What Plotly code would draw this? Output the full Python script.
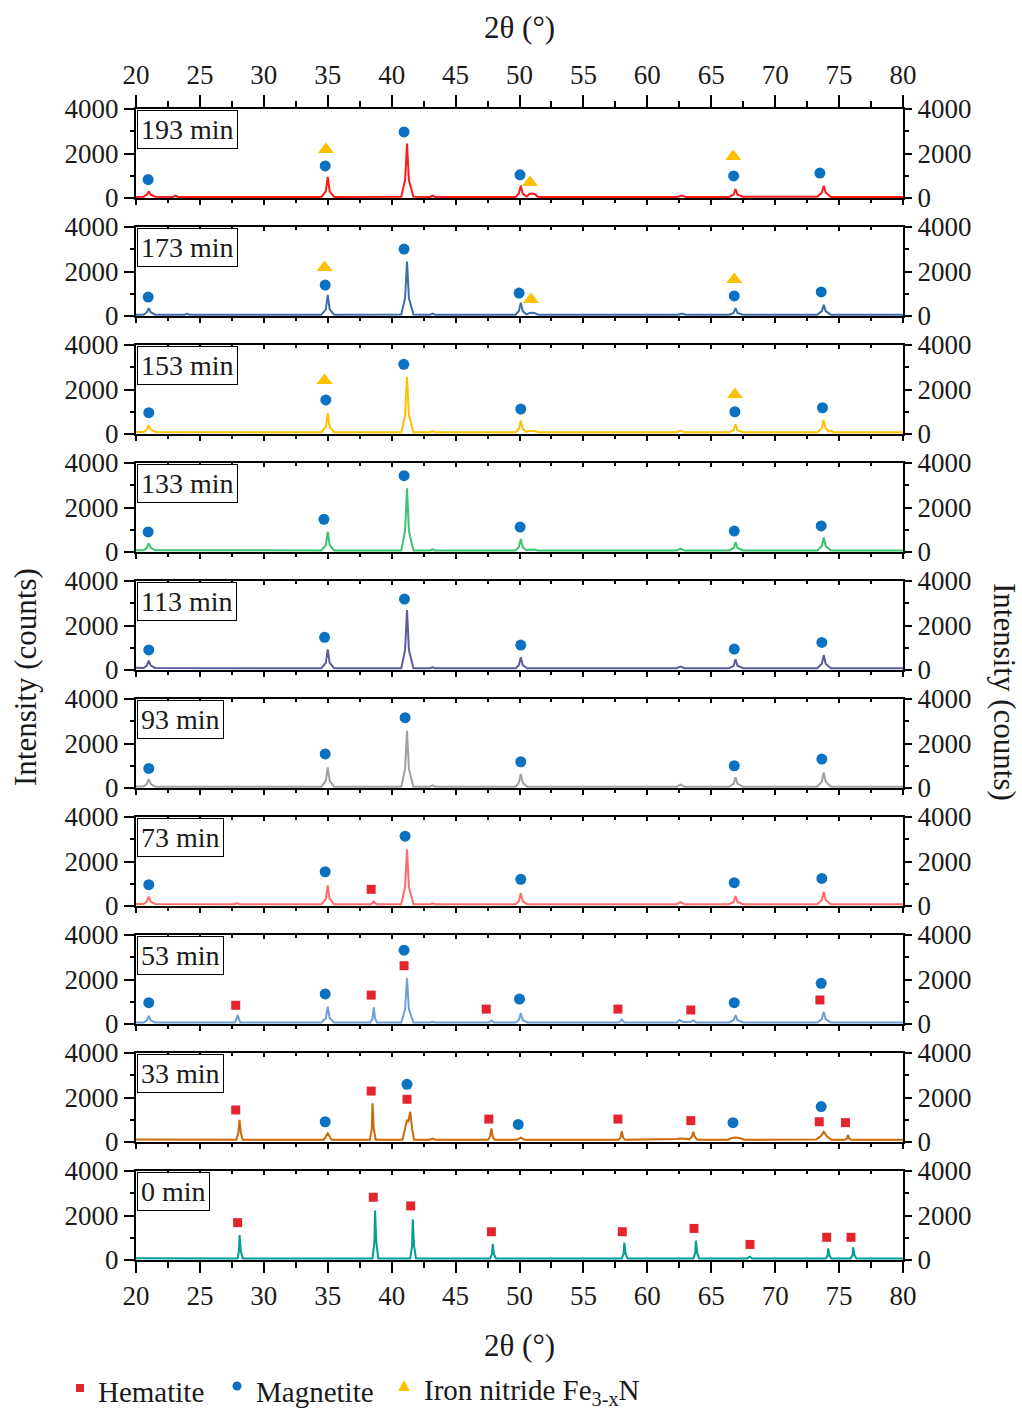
import plotly.graph_objects as go

# ---------------- data ----------------
panel_labels = ["193 min", "173 min", "153 min", "133 min", "113 min",
                "93 min", "73 min", "53 min", "33 min", "0 min"]
line_colors = ["#ff1a1a", "#3c6ea8", "#ffc000", "#3dc46e", "#5c5c9c",
               "#a0a0a0", "#ff6b6b", "#6f9fd8", "#cc6a0a", "#009e98"]

tt193 = [20.0, 20.6, 20.85, 21.0, 21.15, 21.5, 22.9, 23.1, 23.3,
         34.5, 34.85, 35.0, 35.15, 35.5, 40.75, 41.05, 41.2, 41.35, 41.7,
         43.0, 43.2, 43.4, 49.7, 49.95, 50.1, 50.25, 50.55, 50.8, 51.0, 51.2, 51.45,
         62.4, 62.7, 63.0, 66.4, 66.75, 66.9, 67.05, 67.5,
         73.3, 73.65, 73.8, 73.95, 74.35, 80.0]
I193 = [50, 60, 150, 300, 150, 60, 50, 110, 50,
        50, 300, 950, 300, 50, 60, 800, 2450, 800, 60,
        50, 110, 50, 50, 200, 550, 200, 70, 180, 200, 170, 50,
        50, 110, 50, 50, 150, 400, 150, 60,
        60, 250, 550, 250, 50, 50]

tt173 = [20.0, 20.6, 20.85, 21.0, 21.15, 21.5, 23.8, 24.0, 24.2,
         34.5, 34.85, 35.0, 35.15, 35.5, 40.75, 41.05, 41.2, 41.35, 41.7,
         43.0, 43.2, 43.4, 49.7, 49.95, 50.1, 50.25, 50.55, 50.8, 51.0, 51.2, 51.45,
         62.4, 62.7, 63.0, 66.4, 66.75, 66.9, 67.05, 67.5,
         73.3, 73.65, 73.8, 73.95, 74.35, 80.0]
I173 = [60, 60, 170, 350, 170, 60, 60, 100, 60,
        60, 300, 950, 300, 60, 70, 800, 2450, 800, 70,
        60, 110, 60, 60, 220, 600, 220, 70, 140, 150, 130, 60,
        60, 110, 60, 60, 140, 350, 140, 60,
        60, 220, 500, 220, 60, 60]

tt153 = [20.0, 20.6, 20.85, 21.0, 21.15, 21.5,
         34.5, 34.85, 35.0, 35.15, 35.5, 40.75, 41.05, 41.2, 41.35, 41.7,
         43.0, 43.2, 43.4, 49.7, 49.95, 50.1, 50.25, 50.55, 50.8, 51.0, 51.2, 51.45,
         62.3, 62.6, 62.9, 66.4, 66.75, 66.9, 67.05, 67.5,
         73.3, 73.65, 73.8, 73.95, 74.2, 74.4, 74.6, 80.0]
I153 = [90, 90, 200, 400, 200, 90,
        80, 320, 940, 320, 80, 80, 850, 2570, 850, 80,
        80, 130, 80, 80, 230, 600, 230, 90, 140, 150, 130, 80,
        80, 150, 80, 80, 170, 430, 170, 80,
        80, 260, 630, 260, 110, 140, 80, 80]

tt133 = [20.0, 20.6, 20.85, 21.0, 21.15, 21.5,
         34.5, 34.85, 35.0, 35.15, 35.5, 40.75, 41.05, 41.2, 41.35, 41.7,
         43.0, 43.2, 43.4, 49.7, 49.95, 50.1, 50.25, 50.55, 50.8, 51.0, 51.2, 51.45,
         62.3, 62.6, 62.9, 66.4, 66.75, 66.9, 67.05, 67.5,
         73.3, 73.65, 73.8, 73.95, 74.35, 80.0]
I133 = [80, 80, 190, 390, 190, 80,
        70, 310, 910, 310, 70, 70, 950, 2860, 950, 70,
        70, 120, 70, 70, 220, 580, 220, 80, 110, 120, 100, 70,
        70, 150, 70, 70, 180, 450, 180, 70,
        70, 270, 650, 270, 70, 70]

tt113 = [20.0, 20.6, 20.85, 21.0, 21.15, 21.5,
         34.5, 34.85, 35.0, 35.15, 35.5, 40.75, 41.05, 41.2, 41.35, 41.7,
         43.0, 43.2, 43.4, 49.7, 49.95, 50.1, 50.25, 50.6,
         62.3, 62.6, 62.9, 66.4, 66.75, 66.9, 67.05, 67.5,
         73.3, 73.65, 73.8, 73.95, 74.35, 80.0]
I113 = [100, 90, 200, 420, 200, 90,
        80, 320, 930, 320, 80, 80, 900, 2690, 900, 80,
        80, 120, 80, 80, 220, 570, 220, 80,
        80, 150, 80, 80, 190, 480, 190, 80,
        80, 280, 670, 280, 80, 80]

tt93 = [20.0, 20.6, 20.85, 21.0, 21.15, 21.5,
        34.5, 34.85, 35.0, 35.15, 35.5, 40.75, 41.05, 41.2, 41.35, 41.7,
        43.0, 43.2, 43.4, 49.7, 49.95, 50.1, 50.25, 50.6,
        62.3, 62.6, 62.9, 66.4, 66.75, 66.9, 67.05, 67.5,
        73.3, 73.65, 73.8, 73.95, 74.35, 80.0]
I93 = [70, 70, 190, 400, 190, 60,
       60, 320, 930, 320, 60, 60, 860, 2570, 860, 60,
       60, 120, 60, 60, 240, 630, 240, 60,
       60, 150, 60, 60, 190, 480, 190, 60,
       60, 290, 700, 290, 60, 60]

tt73 = [20.0, 20.6, 20.85, 21.0, 21.15, 21.5, 27.7, 27.9, 28.1,
        34.5, 34.85, 35.0, 35.15, 35.5, 38.4, 38.6, 38.8,
        40.75, 41.05, 41.2, 41.35, 41.7, 43.0, 43.2, 43.4,
        49.7, 49.95, 50.1, 50.25, 50.6, 62.3, 62.6, 62.9,
        66.4, 66.75, 66.9, 67.05, 67.5, 73.3, 73.65, 73.8, 73.95, 74.35, 80.0]
I73 = [90, 90, 200, 420, 200, 90, 80, 130, 80,
       80, 320, 930, 320, 80, 80, 200, 80,
       80, 850, 2550, 850, 80, 80, 120, 80,
       80, 220, 570, 220, 80, 80, 170, 80,
       80, 180, 450, 180, 80, 80, 270, 640, 270, 80, 80]

tt53 = [20.0, 20.6, 20.85, 21.0, 21.15, 21.5, 27.75, 27.95, 28.15,
        34.5, 34.85, 35.0, 35.15, 35.5, 38.35, 38.5, 38.6, 38.7, 38.85,
        40.75, 41.05, 41.2, 41.35, 41.7, 43.0, 43.2, 43.4, 47.6, 47.8, 48.0,
        49.7, 49.95, 50.1, 50.25, 50.6, 57.8, 58.0, 58.2,
        62.3, 62.5, 62.8, 63.4, 63.6, 63.8,
        66.4, 66.75, 66.9, 67.05, 67.5, 73.3, 73.65, 73.8, 73.95, 74.35, 80.0]
I53 = [70, 70, 160, 360, 160, 70, 70, 400, 70,
       70, 260, 780, 260, 70, 70, 250, 750, 250, 70,
       70, 650, 2050, 650, 70, 70, 100, 70, 70, 160, 70,
       70, 180, 480, 180, 70, 70, 200, 70,
       70, 180, 90, 90, 170, 70,
       70, 170, 400, 170, 70, 70, 220, 550, 220, 70, 70]

tt33 = [20.0, 27.85, 28.0, 28.1, 28.2, 28.35, 34.7, 35.0, 35.3,
        38.3, 38.45, 38.5, 38.6, 38.75, 40.85, 41.1, 41.2, 41.3, 41.45, 41.6, 41.75,
        43.0, 43.2, 43.4, 47.55, 47.7, 47.8, 47.9, 48.05, 49.8, 50.1, 50.4,
        57.75, 57.9, 58.0, 58.1, 58.25, 62.3, 62.6, 63.3, 63.5, 63.6, 63.7, 63.9,
        66.3, 66.6, 66.9, 67.2, 67.6, 73.2, 73.55, 73.8, 74.05, 74.4,
        75.45, 75.6, 75.7, 75.8, 75.95, 80.0]
I33 = [110, 100, 400, 990, 400, 100, 100, 390, 100,
       100, 600, 1740, 600, 100, 100, 700, 1000, 900, 1360, 600, 100,
       100, 150, 100, 100, 250, 610, 250, 100, 100, 200, 100,
       100, 200, 490, 200, 100, 130, 160, 130, 250, 460, 250, 100,
       100, 180, 200, 180, 100, 110, 250, 460, 250, 100,
       100, 150, 310, 150, 100, 100]

tt0 = [20.0, 27.95, 28.05, 28.1, 28.2, 28.35, 38.5, 38.65, 38.7, 38.8, 38.95,
       41.45, 41.6, 41.65, 41.75, 41.9, 47.7, 47.85, 47.9, 48.0, 48.15,
       58.0, 58.15, 58.2, 58.3, 58.45, 63.6, 63.75, 63.8, 63.9, 64.05,
       67.8, 68.0, 68.2, 73.95, 74.1, 74.15, 74.25, 74.4,
       75.9, 76.05, 76.1, 76.2, 76.35, 80.0]
I0 = [80, 70, 400, 1120, 400, 70, 70, 800, 2220, 800, 70,
      70, 650, 1830, 650, 70, 70, 270, 720, 270, 70,
      70, 290, 780, 290, 70, 70, 320, 870, 320, 70,
      70, 150, 70, 70, 200, 520, 200, 70,
      70, 220, 570, 220, 70, 70]

theta = [tt193, tt173, tt153, tt133, tt113, tt93, tt73, tt53, tt33, tt0]
counts = [I193, I173, I153, I133, I113, I93, I73, I53, I33, I0]

# phase markers per panel
mag_x = [[20.95, 34.8, 40.97, 50.04, 66.75, 73.5],
         [20.95, 34.8, 40.97, 49.97, 66.8, 73.6],
         [21.0, 34.85, 40.95, 50.1, 66.85, 73.7],
         [20.95, 34.7, 40.97, 50.05, 66.8, 73.6],
         [21.0, 34.75, 41.0, 50.1, 66.8, 73.65],
         [21.0, 34.8, 41.05, 50.1, 66.8, 73.65],
         [21.0, 34.8, 41.05, 50.1, 66.8, 73.65],
         [21.0, 34.8, 40.97, 50.0, 66.8, 73.6],
         [34.8, 41.2, 49.9, 66.7, 73.6],
         []]
mag_y = [[830, 1440, 2970, 1040, 990, 1120],
         [850, 1390, 3010, 1030, 900, 1080],
         [960, 1530, 3130, 1120, 1000, 1180],
         [900, 1470, 3430, 1120, 940, 1170],
         [900, 1470, 3190, 1120, 940, 1240],
         [880, 1530, 3160, 1180, 1000, 1300],
         [960, 1540, 3140, 1200, 1050, 1240],
         [960, 1350, 3320, 1120, 960, 1830],
         [910, 2590, 790, 870, 1590],
         []]
hem_x = [[], [], [], [], [], [],
         [38.4],
         [27.8, 38.4, 40.97, 47.4, 57.7, 63.4, 73.5],
         [27.8, 38.4, 41.2, 47.6, 57.7, 63.4, 73.45, 75.5],
         [27.95, 38.56, 41.49, 47.8, 58.04, 63.65, 68.03, 74.03, 75.93]]
hem_y = [[], [], [], [], [], [],
         [750],
         [840, 1300, 2620, 670, 670, 630, 1080],
         [1440, 2290, 1920, 1030, 1030, 960, 910, 870],
         [1680, 2820, 2430, 1270, 1270, 1420, 700, 1020, 1020]]
nit_x = [[34.86, 50.82, 66.72], [34.75, 50.9, 66.8], [34.75, 66.85],
         [], [], [], [], [], [], []]
nit_y = [[2180, 700, 1860], [2180, 740, 1640], [2410, 1770],
         [], [], [], [], [], [], []]

x_ticks = [20, 25, 30, 35, 40, 45, 50, 55, 60, 65, 70, 75, 80]
y_ticks = [0, 2000, 4000]

# ---------------- layout helpers ----------------
W, H = 1022, 1409
ML, MR, MT, MB = 136, 119, 109, 149
PW = W - ML - MR
PH = H - MT - MB
FONT = "Liberation Serif, Times New Roman, serif"
INK = "#1a1a1a"
HEM_C, MAG_C, NIT_C = "#e3262e", "#0b72c2", "#ffc000"


def py(p):
    return (H - MB - p) / PH


def px(p):
    return (p - ML) / PW


def ax(prefix, n):
    return prefix if n == 1 else f"{prefix}{n}"


fig = go.Figure()
layout = {}
annotations = []

for i in range(10):
    n = i + 1
    xa, ya = ax("x", n), ax("y", n)
    fig.add_trace(go.Scatter(x=theta[i], y=counts[i], mode="lines",
                             line=dict(color=line_colors[i], width=2),
                             xaxis=xa, yaxis=ya, showlegend=False, hoverinfo="skip"))
    if hem_x[i]:
        fig.add_trace(go.Scatter(x=hem_x[i], y=hem_y[i], mode="markers",
                                 marker=dict(symbol="square", size=9, color=HEM_C),
                                 xaxis=xa, yaxis=ya, showlegend=False))
    if mag_x[i]:
        fig.add_trace(go.Scatter(x=mag_x[i], y=mag_y[i], mode="markers",
                                 marker=dict(symbol="circle", size=11, color=MAG_C),
                                 xaxis=xa, yaxis=ya, showlegend=False))
    if nit_x[i]:
        fig.add_trace(go.Scatter(x=nit_x[i], y=nit_y[i], mode="markers",
                                 marker=dict(symbol="triangle-up", size=14, color=NIT_C),
                                 xaxis=xa, yaxis=ya, showlegend=False))
    # placeholder traces so the mirrored top / right axes are drawn
    fig.add_trace(go.Scatter(x=[None], y=[None], xaxis=f"x{10 + n}", yaxis=ya,
                             showlegend=False, hoverinfo="skip"))
    fig.add_trace(go.Scatter(x=[None], y=[None], xaxis=xa, yaxis=f"y{10 + n}",
                             showlegend=False, hoverinfo="skip"))

    top = MT + 118 * i
    bot = top + 89
    dom = [py(bot), py(top)]
    last = (i == 9)
    first = (i == 0)
    tfont = dict(family=FONT, size=27, color=INK)

    layout[f"xaxis{n}"] = dict(
        domain=[0, 1], anchor=ya, range=[20, 80], tickvals=x_ticks,
        showticklabels=last, ticks="outside", ticklen=11 if last else 5,
        tickwidth=2, tickcolor="black", showline=True, linewidth=2, linecolor="black",
        showgrid=False, zeroline=False, tickfont=tfont,
        minor=dict(ticks="outside", ticklen=6 if last else 3, tickwidth=2,
                   tickcolor="black", dtick=2.5, tick0=20, showgrid=False))
    layout[f"xaxis{10 + n}"] = dict(
        overlaying=xa, anchor=ya, side="top", range=[20, 80], tickvals=x_ticks,
        showticklabels=first, ticks="outside" if first else "inside",
        ticklen=12 if first else 4, tickwidth=2, tickcolor="black",
        showline=True, linewidth=2, linecolor="black",
        showgrid=False, zeroline=False, tickfont=tfont,
        minor=dict(ticks="outside" if first else "inside", ticklen=6 if first else 3,
                   tickwidth=2, tickcolor="black", dtick=2.5, tick0=20, showgrid=False))
    layout[f"yaxis{n}"] = dict(
        domain=dom, anchor=xa, range=[0, 4000], tickvals=y_ticks,
        ticks="outside", ticklen=10, tickwidth=2, tickcolor="black",
        showline=True, linewidth=2, linecolor="black", showgrid=False, zeroline=False,
        tickfont=tfont,
        minor=dict(ticks="outside", ticklen=4, tickwidth=2, tickcolor="black",
                   dtick=1000, tick0=0, showgrid=False))
    layout[f"yaxis{10 + n}"] = dict(
        overlaying=ya, anchor=xa, side="right", range=[0, 4000], tickvals=y_ticks,
        ticks="outside", ticklen=7, tickwidth=2, tickcolor="black",
        showline=True, linewidth=2, linecolor="black", showgrid=False, zeroline=False,
        tickfont=tfont,
        minor=dict(ticks="outside", ticklen=4, tickwidth=2, tickcolor="black",
                   dtick=1000, tick0=0, showgrid=False))

    annotations.append(dict(
        text=panel_labels[i], xref=xa, yref=ya, x=20, y=4000,
        xanchor="left", yanchor="top", xshift=1, yshift=-1, showarrow=False,
        bordercolor="black", borderwidth=1, borderpad=3, bgcolor="white",
        font=dict(family=FONT, size=28, color=INK)))

title_font = dict(family=FONT, size=31, color=INK)
annotations += [
    dict(text="2θ (°)", xref="paper", yref="paper", x=px(519), y=py(27),
         xanchor="center", yanchor="middle", showarrow=False, font=title_font),
    dict(text="2θ (°)", xref="paper", yref="paper", x=px(519), y=py(1345),
         xanchor="center", yanchor="middle", showarrow=False, font=title_font),
    dict(text="Intensity (counts)", xref="paper", yref="paper", x=px(25), y=py(677),
         xanchor="center", yanchor="middle", textangle=-90, showarrow=False, font=title_font),
    dict(text="Intensity (counts)", xref="paper", yref="paper", x=px(1005), y=py(692),
         xanchor="center", yanchor="middle", textangle=90, showarrow=False, font=title_font),
]

leg_font = dict(family=FONT, size=29, color=INK)
legend_items = [("Hematite", 96), ("Magnetite", 254), ("Iron nitride Fe<sub>3-x</sub>N", 422)]
for txt, lx in legend_items:
    annotations.append(dict(text=txt, xref="paper", yref="paper", x=px(lx), y=py(1392),
                            xanchor="left", yanchor="middle", showarrow=False, font=leg_font))

shapes = [
    dict(type="rect", xref="paper", yref="paper", xsizemode="pixel", ysizemode="pixel",
         xanchor=px(80), yanchor=py(1388), x0=-4, x1=4, y0=-4, y1=4,
         fillcolor=HEM_C, line=dict(width=0)),
    dict(type="circle", xref="paper", yref="paper", xsizemode="pixel", ysizemode="pixel",
         xanchor=px(237), yanchor=py(1386), x0=-4.5, x1=4.5, y0=-4.5, y1=4.5,
         fillcolor=MAG_C, line=dict(width=0)),
    dict(type="path", xref="paper", yref="paper", xsizemode="pixel", ysizemode="pixel",
         xanchor=px(404), yanchor=py(1386), path="M -6,-5 L 6,-5 L 0,6 Z",
         fillcolor=NIT_C, line=dict(width=0)),
]

fig.update_layout(
    width=W, height=H, margin=dict(l=ML, r=MR, t=MT, b=MB),
    paper_bgcolor="white", plot_bgcolor="white",
    annotations=annotations, shapes=shapes, showlegend=False,
    **layout)

fig.write_html("out.html")
